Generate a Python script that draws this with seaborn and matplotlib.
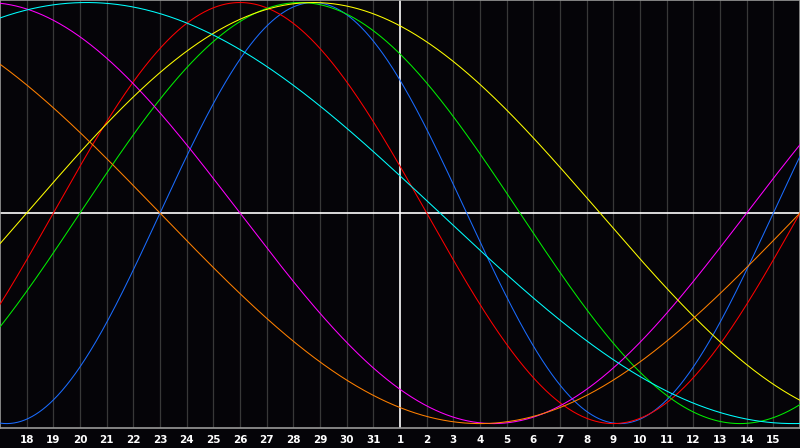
import numpy as np
import pandas as pd
import matplotlib
matplotlib.use("Agg")
import matplotlib.pyplot as plt
import seaborn as sns

# biorhythm cycles: period (days) and cycle day at the left edge of the chart
cycles = ["physical", "emotional", "intellectual", "intuitive", "aesthetic", "awareness", "spiritual"]
periods = [23, 28, 33, 38, 43, 48, 53]
start_day = [17, 26, 30, 10, 42, 18, 10]
colors = ["#1a6cff", "#ff0000", "#00ee00", "#ff00ff", "#ffff00", "#ff8000", "#00ffff"]

# day labels along the bottom (chart starts on the 17th, today is the 1st)
day_labels = list(range(18, 32)) + list(range(1, 16))
n_days = 30
today = 15

t = np.linspace(0, n_days, 901)
frames = []
for name, p, s in zip(cycles, periods, start_day):
    frames.append(pd.DataFrame({"t": t, "value": np.sin(2 * np.pi * (t + s) / p), "cycle": name}))
df = pd.concat(frames, ignore_index=True)

sns.set_style("dark")
fig = plt.figure(figsize=(8, 4.48), dpi=100, facecolor="#050408")
ax = fig.add_axes([0.0, 20 / 448, 1.0, 428 / 448])
ax.set_facecolor("#050408")

# day grid
for i in range(1, n_days):
    if i != today:
        ax.axvline(i, color="#383838", lw=0.9, zorder=1)

ax.axhline(0, color="white", lw=1.2, zorder=2)
ax.axvline(today, color="white", lw=1.2, zorder=2)

sns.lineplot(data=df, x="t", y="value", hue="cycle", palette=dict(zip(cycles, colors)),
             linewidth=0.75, legend=False, ax=ax, zorder=3)

ax.set_xlim(0, n_days)
ax.set_ylim(-1.021, 1.012)
ax.set_xticks(range(1, n_days))
ax.set_xticklabels(day_labels)
ax.set_yticks([])
ax.set_xlabel("")
ax.set_ylabel("")
ax.tick_params(axis="x", length=0, pad=5, colors="white", labelsize=7.5)
for lab in ax.get_xticklabels():
    lab.set_fontweight("bold")
for sp in ax.spines.values():
    sp.set_visible(True)
    sp.set_color("#999999")
    sp.set_linewidth(1.2)
ax.grid(False)

fig.savefig("out.png", dpi=100, facecolor="#050408")
